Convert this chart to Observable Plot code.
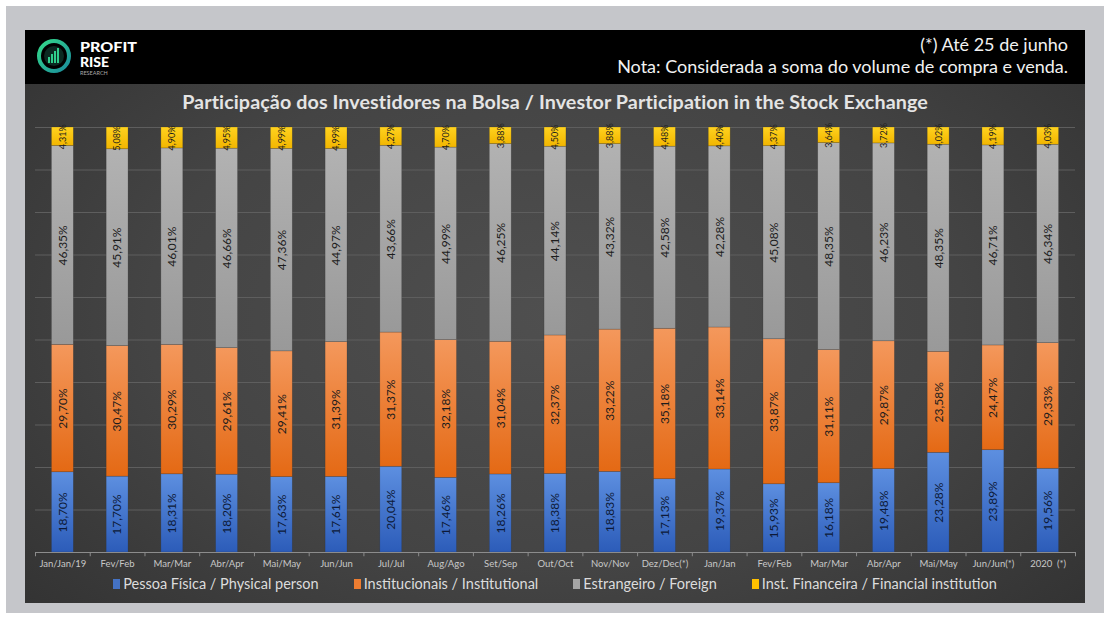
<!DOCTYPE html>
<html>
<head>
<meta charset="utf-8">
<script src="https://cdn.jsdelivr.net/npm/d3@7"></script>
<script src="https://cdn.jsdelivr.net/npm/@observablehq/plot@0.6"></script>
<style>
  html, body { margin: 0; padding: 0; background: #ffffff; }
  body { width: 1110px; height: 619px; position: relative; overflow: hidden; font-family: Lato, "Open Sans", sans-serif; }
  #outer { position: absolute; left: 6px; top: 6px; width: 1098px; height: 607px; background: #c5c6ca; }
  #panel { position: absolute; left: 25px; top: 30px; width: 1060px; height: 573px; overflow: hidden;
           background: radial-gradient(ellipse 70% 80% at 50% 50%, #4f4f4f 0%, #444 55%, #313131 100%); }
  #header { position: absolute; left: 0; top: 0; width: 1060px; height: 54px; background: #000; }
  #logo { position: absolute; left: 10px; top: 7px; }
  #note { position: absolute; right: 17px; top: 3px; text-align: right; color: #f2f2f2; font-size: 18px; line-height: 22px; }
  #title { position: absolute; left: 0; top: 60px; width: 1060px; text-align: center; color: #e4e4e4;
           font-weight: bold; font-size: 19.7px; letter-spacing: 0.1px; }
  #chart { position: absolute; left: 0; top: 85px; }
  #legend { position: absolute; left: 0; top: 545px; width: 1060px; display: flex; justify-content: center; gap: 35px;
            color: #dcdcdc; font-size: 14.5px; }
  #legend .item { display: flex; align-items: center; }
  #legend .sw { width: 7px; height: 10px; margin-right: 3px; }
</style>
</head>
<body>
<div id="outer"></div>
<div id="panel">
  <div id="header">
    <svg id="logo" width="140" height="42" viewBox="0 0 140 42">
      <defs>
        <linearGradient id="logoG" x1="0" y1="0" x2="1" y2="1">
          <stop offset="0" stop-color="#34d98a"/>
          <stop offset="1" stop-color="#1a8c9c"/>
        </linearGradient>
      </defs>
      <circle cx="19" cy="19" r="15" fill="none" stroke="url(#logoG)" stroke-width="4"/>
      <circle cx="19" cy="19" r="10" fill="#0c2a22"/>
      <rect x="13" y="20" width="2" height="6" fill="#2fcf8c"/>
      <rect x="16" y="17" width="2" height="9" fill="#2fcf8c"/>
      <rect x="19" y="14" width="2" height="12" fill="#2fcf8c"/>
      <rect x="22" y="11" width="2" height="15" fill="#2fcf8c"/>
      <text x="45" y="14.5" fill="#fff" font-family="Lato, sans-serif" font-weight="900" font-size="14" textLength="57" lengthAdjust="spacingAndGlyphs">PROFIT</text>
      <text x="45" y="29.5" fill="#fff" font-family="Lato, sans-serif" font-weight="900" font-size="14">RISE</text>
      <text x="45" y="38" fill="#aaa" font-family="Lato, sans-serif" font-size="5.5">RESEARCH</text>
    </svg>
    <div id="note">(*) Até 25 de junho<br>Nota: Considerada a soma do volume de compra e venda.</div>
  </div>
  <div id="title">Participação dos Investidores na Bolsa / Investor Participation in the Stock Exchange</div>
  <div id="chart"></div>
  <div id="legend"></div>
</div>
<script>
// ---- data ----
const months = ["Jan/Jan/19", "Fev/Feb", "Mar/Mar", "Abr/Apr", "Mai/May", "Jun/Jun", "Jul/Jul", "Aug/Ago", "Set/Sep", "Out/Oct",
  "Nov/Nov", "Dez/Dec(*)", "Jan/Jan", "Fev/Feb", "Mar/Mar", "Abr/Apr", "Mai/May", "Jun/Jun(*)", "2020  (*)"];
const seriesNames = ["Pessoa Física / Physical person", "Institucionais / Institutional", "Estrangeiro / Foreign", "Inst. Financeira / Financial institution"];
const pessoaFisica = [18.70, 17.70, 18.31, 18.20, 17.63, 17.61, 20.04, 17.46, 18.26, 18.38, 18.83, 17.13, 19.37, 15.93, 16.18, 19.48, 23.28, 23.89, 19.56];
const institucionais = [29.70, 30.47, 30.29, 29.61, 29.41, 31.39, 31.37, 32.18, 31.04, 32.37, 33.22, 35.18, 33.14, 33.87, 31.11, 29.87, 23.58, 24.47, 29.33];
const estrangeiro = [46.35, 45.91, 46.01, 46.66, 47.36, 44.97, 43.66, 44.99, 46.25, 44.14, 43.32, 42.58, 42.28, 45.08, 48.35, 46.23, 48.35, 46.71, 46.34];
const instFinanceira = [4.31, 5.08, 4.90, 4.95, 4.99, 4.99, 4.27, 4.70, 3.88, 4.50, 3.88, 4.48, 4.40, 4.37, 3.64, 3.72, 4.02, 4.19, 4.03];
const seriesValues = [pessoaFisica, institucionais, estrangeiro, instFinanceira];
const legendColors = ["#4472c4", "#ed7d31", "#a5a5a5", "#ffc000"];
const gradients = [
  {id: "gBlue", top: "#5d8fe0", bottom: "#2c5cb9"},
  {id: "gOrange", top: "#f4985c", bottom: "#e46914"},
  {id: "gGray", top: "#b2b2b2", bottom: "#999999"},
  {id: "gYellow", top: "#ffd21f", bottom: "#f2b600"}
];

const idx = d3.range(months.length);
const data = seriesNames.flatMap((s, si) => seriesValues[si].map((v, i) => ({i, series: s, value: v})));
const fmt = v => v.toFixed(2).replace(".", ",") + "%";

const W = 1060, H = 460, mL = 10, mR = 10;
const bw = (W - mL - mR) / months.length;

const chart = Plot.plot({
  width: W, height: H,
  marginLeft: mL, marginRight: mR, marginTop: 12, marginBottom: 23,
  style: {background: "transparent", fontFamily: "Lato, sans-serif", fontSize: "9.5px", color: "#c8c8c8", overflow: "visible"},
  x: {domain: idx, paddingInner: 0.6, paddingOuter: 0.3, round: false, tickFormat: i => months[i], tickSize: 0, tickPadding: 8, label: null},
  y: {domain: [0, 1], axis: null},
  color: {domain: seriesNames, range: gradients.map(g => `url(#${g.id})`)},
  marks: [
    Plot.ruleY(d3.ticks(0, 1, 10), {stroke: "#5e5e5e", strokeWidth: 1}),
    Plot.barY(data, Plot.stackY({offset: "normalize", x: "i", y: "value", fill: "series", stroke: "#2a2a2a", strokeOpacity: 0.35, strokeWidth: 0.6})),
    Plot.text(data, Plot.stackY({
      offset: "normalize", x: "i", y: "value", text: d => fmt(d.value), rotate: -90,
      fontSize: d => d.series === seriesNames[3] ? 9 : 12,
      fill: d => d.series === seriesNames[0] ? "#0d1a38" : "#1c1c1c"
    })),
    Plot.ruleY([0], {stroke: "#8c8c8c", strokeWidth: 1}),
    Plot.ruleX(idx, {x: d => d, dx: -bw / 2, y1: 0, y2: -0.01, stroke: "#8c8c8c"}),
    Plot.ruleX([idx[idx.length - 1]], {x: d => d, dx: bw / 2, y1: 0, y2: -0.01, stroke: "#8c8c8c"})
  ]
});

// gradient definitions for the bar fills
const defs = d3.select(chart).insert("defs", ":first-child");
for (const g of gradients) {
  const lg = defs.append("linearGradient").attr("id", g.id).attr("x1", 0).attr("y1", 0).attr("x2", 0).attr("y2", 1);
  lg.append("stop").attr("offset", 0).attr("stop-color", g.top);
  lg.append("stop").attr("offset", 1).attr("stop-color", g.bottom);
}
document.getElementById("chart").appendChild(chart);

// legend
const legend = d3.select("#legend");
seriesNames.forEach((s, i) => {
  const it = legend.append("div").attr("class", "item");
  it.append("div").attr("class", "sw").style("background", legendColors[i]);
  it.append("span").text(s);
});
</script>
</body>
</html>
